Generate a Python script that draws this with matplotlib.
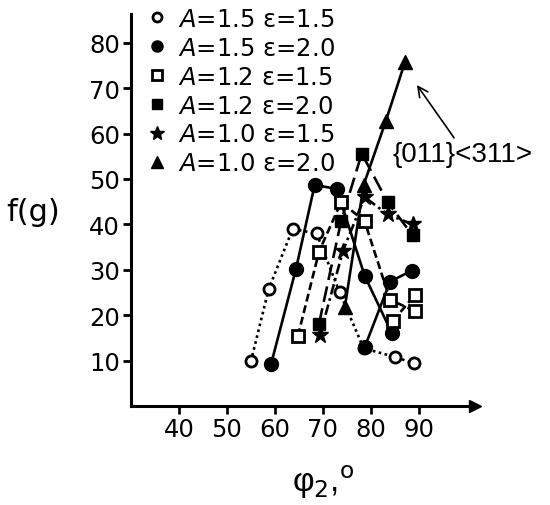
import matplotlib
matplotlib.use('Agg')
import matplotlib.pyplot as plt
from matplotlib.lines import Line2D

plt.rcParams['font.family'] = ['DejaVu Sans']
plt.rcParams['mathtext.fontset'] = 'dejavusans'

# A=1.5 e=1.5 (open circles, dotted)
phi_oc = [55, 58.7, 63.7, 68.7, 73.5, 78.5, 85, 89]
f_oc = [9.8, 25.7, 39, 38, 25, 12.7, 10.8, 9.4]
# A=1.5 e=2.0 (filled circles, solid) - two branches
phi_fc = [59.2, 64.4, 68.3, 72.9, 78.7, 84.4]
f_fc = [9.2, 30.2, 48.7, 47.8, 28.7, 16]
phi_fc2 = [78.7, 84, 88.5]
f_fc2 = [12.9, 27.4, 29.8]
# A=1.2 e=1.5 (open squares, dashed)
phi_os = [64.8, 69.2, 73.8, 78.7, 84, 89.2]
f_os = [15.4, 34, 44.9, 40.7, 23.4, 20.9]
phi_os2 = [84.6, 89.2]
f_os2 = [18.7, 24.5]
# A=1.2 e=2.0 (filled squares, long dash)
phi_fs = [69.2, 73.8, 78.1, 83.5, 88.7]
f_fs = [18.1, 40.7, 55.6, 44.9, 37.6]
# A=1.0 e=1.5 (stars, dash-dot)
phi_st = [69.4, 74.2, 78.7, 83.5, 88.7]
f_st = [15.6, 34.2, 46, 42.2, 40]
# A=1.0 e=2.0 (triangles, solid)
phi_tr = [74.6, 78.5, 83.1, 87.1]
f_tr = [21.9, 48.7, 62.7, 75.7]

labels = ['$A$=1.5 ε=1.5', '$A$=1.5 ε=2.0', '$A$=1.2 ε=1.5',
          '$A$=1.2 ε=2.0', '$A$=1.0 ε=1.5', '$A$=1.0 ε=2.0']

fig = plt.figure(figsize=(5.5, 5.06), dpi=100)
ax = fig.add_axes([0.238, 0.1957, 0.6256, 0.7743])

lw = 1.9
ax.plot(phi_oc, f_oc, ls=(0, (1, 1.3)), color='k', lw=lw, marker='o', ms=8,
        mfc='white', mec='k', mew=2, zorder=3)
ax.plot(phi_fc, f_fc, ls='-', color='k', lw=lw, marker='o', ms=10, zorder=3)
ax.plot(phi_fc2, f_fc2, ls='-', color='k', lw=lw, marker='o', ms=10, zorder=3)
ax.plot(phi_os, f_os, ls=(0, (3, 1.5)), color='k', lw=lw, marker='s', ms=8.5,
        mfc='white', mec='k', mew=2, zorder=4)
ax.plot(phi_os2, f_os2, ls=(0, (3, 1.5)), color='k', lw=lw, marker='s', ms=8.5,
        mfc='white', mec='k', mew=2, zorder=4)
ax.plot(phi_fs, f_fs, ls=(0, (6, 2.5)), color='k', lw=lw, marker='s', ms=9, zorder=3)
ax.plot(phi_st, f_st, ls=(0, (4, 1.5, 1, 1.5)), color='k', lw=lw, marker='*', ms=12, zorder=4)
ax.plot(phi_tr, f_tr, ls='-', color='k', lw=lw, marker='^', ms=10, zorder=3)

ax.annotate('{011}<311>', xy=(89.6, 70.7), xytext=(84.6, 55.6),
            fontsize=20, va='center', ha='left', family='Liberation Sans',
            arrowprops=dict(arrowstyle='->', lw=1.2, color='k',
                            shrinkA=0, shrinkB=0, mutation_scale=18,
                            relpos=(0.45, 1.0)))

ax.set_xlim(30, 101.7)
ax.set_ylim(0, 86.3)
ax.set_xticks([40, 50, 60, 70, 80, 90])
ax.set_yticks([10, 20, 30, 40, 50, 60, 70, 80])
ax.tick_params(labelsize=17.5, width=2, length=6, pad=2)
for s in ['top', 'right']:
    ax.spines[s].set_visible(False)
for s in ['left', 'bottom']:
    ax.spines[s].set_linewidth(2.2)
ax.plot(1, 0, '>k', ms=9, transform=ax.get_yaxis_transform(), clip_on=False)
ax.plot(0, 1, '^k', ms=9, transform=ax.get_xaxis_transform(), clip_on=False)

fig.text(0.06, 0.58, 'f(g)', fontsize=22, ha='center', va='center')
fig.text(0.588, 0.047, 'φ$_2$,$^{\\rm o}$', fontsize=24, ha='center', va='center',
         family='Liberation Sans', math_fontfamily='custom')

handles = [
    Line2D([], [], ls='', marker='o', ms=6.5, mfc='white', mec='k', mew=2),
    Line2D([], [], ls='', marker='o', ms=8, color='k'),
    Line2D([], [], ls='', marker='s', ms=7, mfc='white', mec='k', mew=2),
    Line2D([], [], ls='', marker='s', ms=7.5, color='k'),
    Line2D([], [], ls='', marker='*', ms=10.5, color='k'),
    Line2D([], [], ls='', marker='^', ms=8.5, color='k'),
]
fig.legend(handles, labels, loc='upper left', bbox_to_anchor=(0.268, 0.989),
           frameon=False, fontsize=17.5, handlelength=0.6, handletextpad=0.55,
           labelspacing=0.2, borderpad=0.1, borderaxespad=0)

fig.savefig('out.png', dpi=100)
